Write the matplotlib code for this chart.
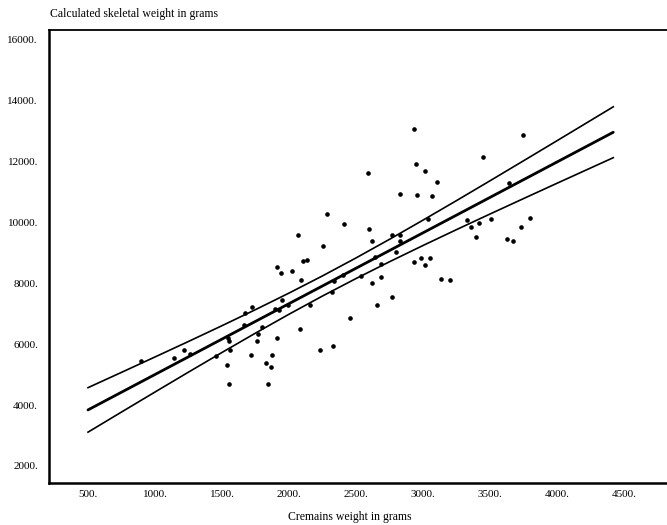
import matplotlib
matplotlib.use("Agg")
import matplotlib.pyplot as plt
import numpy as np

# Scatter data: cremains weight (g) vs calculated skeletal weight (g)
cremains = [893, 1140, 1216, 1261, 1459, 1547, 1549, 1563, 1534, 1556,
            1672, 1722, 1666, 1718, 1765, 1760, 1801, 1828, 1866, 1875,
            1843, 1914, 1908, 1938, 1948, 1899, 1928, 2025, 2066, 2101,
            2137, 2086, 1996, 2079, 2157, 2257, 2233, 2325, 2337, 2319,
            2404, 2453, 2540, 2621, 2621, 2658, 2592, 2281, 2413, 2597,
            2935, 2950, 3017, 3104, 3450, 2826, 2955, 3069, 2769, 2831,
            2828, 3041, 3326, 3356, 3416, 3507, 3393, 3749, 3801, 3730,
            3625, 3670, 3640, 2687, 2688, 2769, 2933, 2983, 3013, 3052,
            3131, 3199, 2642, 2801]
skeletal = [5455, 5534, 5806, 5675, 5609, 6206, 6101, 5806, 5304, 4681,
            7030, 7227, 6626, 5642, 6331, 6085, 6561, 5389, 5258, 5658,
            4681, 6190, 8539, 8342, 7430, 7141, 7118, 8405, 9573, 8733,
            8749, 8103, 7289, 6485, 7266, 9202, 5806, 5944, 8080, 7725,
            8260, 6846, 8240, 9366, 7988, 7273, 11620, 10258, 9930, 9792,
            13047, 11909, 11679, 11318, 12128, 10914, 10882, 10859, 9569, 9569,
            9392, 10094, 10081, 9852, 9963, 10114, 9513, 12860, 10127, 9825,
            9461, 9389, 11275, 8621, 8191, 7545, 8693, 8834, 8588, 8808,
            8126, 8103, 8867, 9031]

# Regression line and confidence band
line_x = [500, 750, 1000, 1250, 1500, 1750, 2000, 2250, 2500, 2750,
          3000, 3250, 3500, 3750, 4000, 4210, 4420]
line_mid = [3840, 4421, 5002, 5583, 6164, 6745, 7326, 7907, 8488, 9069,
            9650, 10231, 10812, 11393, 11974, 12462, 12950]
line_upper = [4570, 5072, 5577, 6086, 6603, 7130, 7673, 8237, 8826, 9437,
              10066, 10707, 11357, 12013, 12672, 13228, 13785]
line_lower = [3110, 3770, 4427, 5080, 5725, 6360, 6979, 7577, 8150, 8701,
              9234, 9755, 10267, 10773, 11276, 11696, 12115]

x_ticks = [500, 1000, 1500, 2000, 2500, 3000, 3500, 4000, 4500]
y_ticks = [2000, 4000, 6000, 8000, 10000, 12000, 14000, 16000]

plt.rcParams['font.family'] = ['Liberation Serif', 'DejaVu Serif']

fig = plt.figure(figsize=(6.67, 5.25), dpi=100)
ax = fig.add_axes([49/667, 1 - 483/525, 1 - 49/667, (483 - 30)/525])

ax.plot(line_x, line_mid, color='black', lw=2.0, solid_capstyle='round')
ax.plot(line_x, line_upper, color='black', lw=1.2)
ax.plot(line_x, line_lower, color='black', lw=1.2)
ax.scatter(cremains, skeletal, s=11, color='black', zorder=3, linewidths=0)

ax.set_xlim(209, 4821)
ax.set_ylim(1442, 16305)
ax.set_xticks(x_ticks)
ax.set_xticklabels([f"{v}." for v in x_ticks])
ax.set_yticks(y_ticks)
ax.set_yticklabels([f"{v}." for v in y_ticks])
ax.tick_params(axis='both', length=0, labelsize=8)
ax.tick_params(axis='y', pad=8)
ax.tick_params(axis='x', pad=5)

ax.spines['right'].set_visible(False)
ax.spines['left'].set_linewidth(1.8)
ax.spines['bottom'].set_linewidth(1.8)
ax.spines['top'].set_linewidth(1.3)

fig.text(50/667, 1 - 14/525, "Calculated skeletal weight in grams",
         ha='left', va='center', fontsize=8.5)
fig.text(350/667, 1 - 517/525, "Cremains weight in grams",
         ha='center', va='center', fontsize=8.5)

fig.savefig("out.png", dpi=100)
